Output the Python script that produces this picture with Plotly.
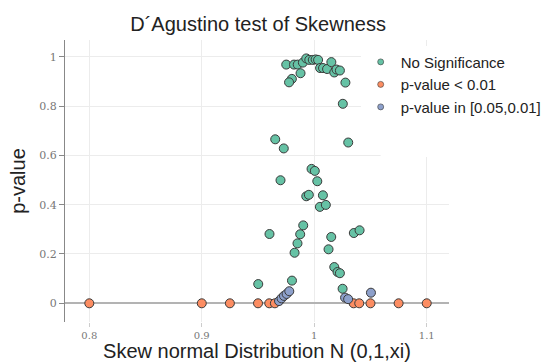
import plotly.graph_objects as go

# ---------------- data ----------------
ns_x = [0.9751, 0.9820, 0.9853, 0.9899, 0.9929, 0.9956, 0.9987, 1.0012, 1.0034,
        1.0052, 1.0078, 1.0114, 1.0152, 1.0178, 1.0198, 1.0228, 0.9878, 0.9801,
        0.9776, 1.0277, 1.0254, 0.9653, 0.9729, 1.0302, 0.9976, 1.0005, 0.9700,
        1.0027, 0.9929, 0.9952, 1.0077, 1.0050, 1.0103, 0.9902, 0.9602, 0.9875,
        1.0151, 1.0352, 1.0403, 0.9851, 0.9825, 1.0127, 1.0178, 1.0207, 1.0228,
        0.9502, 0.9802, 1.0252]
ns_y = [0.968, 0.968, 0.968, 0.976, 0.993, 0.987, 0.987, 0.989, 0.987,
        0.954, 0.954, 0.950, 0.978, 0.936, 0.948, 0.944, 0.933, 0.910,
        0.896, 0.895, 0.809, 0.665, 0.628, 0.652, 0.545, 0.537, 0.499,
        0.495, 0.434, 0.440, 0.438, 0.391, 0.399, 0.316, 0.281, 0.280,
        0.269, 0.285, 0.296, 0.243, 0.205, 0.219, 0.147, 0.127, 0.122,
        0.078, 0.092, 0.059]

low_x = [0.8, 0.9, 0.925, 0.95, 0.96, 0.965, 1.035, 1.04, 1.05, 1.075, 1.1]
low_y = [0, 0, 0, 0, 0, 0, 0, 0, 0, 0, 0]

mid_x = [0.9687, 0.9709, 0.9731, 0.9754, 0.9778, 1.0274, 1.0301, 1.0504]
mid_y = [0.009, 0.020, 0.030, 0.038, 0.049, 0.023, 0.017, 0.043]

names = ["No Significance", "p-value < 0.01", "p-value in [0.05,0.01]"]
colors = ["#66c2a5", "#fc8d62", "#8da0cb"]

x_ticks = [0.8, 0.9, 1.0, 1.1]
x_ticklabels = ["0.8", "0.9", "1", "1.1"]
y_ticks = [0, 0.2, 0.4, 0.6, 0.8, 1.0]
y_ticklabels = ["0", "0.2", "0.4", "0.6", "0.8", "1"]

fig = go.Figure()
for xs, ys, nm, c in [(ns_x, ns_y, names[0], colors[0]),
                      (low_x, low_y, names[1], colors[1]),
                      (mid_x, mid_y, names[2], colors[2])]:
    fig.add_trace(go.Scatter(x=xs, y=ys, mode="markers", name=nm, showlegend=False,
                             marker=dict(size=9, color=c,
                                         line=dict(width=1, color="#3a3a3a"))))
# legend entries with smaller symbols
for nm, c in zip(names, colors):
    fig.add_trace(go.Scatter(x=[None], y=[None], mode="markers", name=nm,
                             marker=dict(size=6, color=c,
                                         line=dict(width=0.6, color="#3a3a3a"))))

fig.update_layout(
    width=555, height=362,
    margin=dict(l=65, r=106, t=40, b=40, autoexpand=False),
    paper_bgcolor="white", plot_bgcolor="white",
    font=dict(family="Liberation Sans, Arial, sans-serif", color="#222"),
    title=dict(text="D´Agustino test of Skewness", x=0.465, xanchor="center",
               y=0.935, yanchor="middle", font=dict(size=20, color="#222")),
    legend=dict(x=0.77, y=0.98, xanchor="left", yanchor="top",
                bgcolor="rgba(255,255,255,1)", font=dict(size=15, color="#222"),
                tracegroupgap=0, itemwidth=30),
    shapes=[dict(type="rect", xref="x", yref="y", x0=1.059, x1=1.125, y0=0.593, y1=1.015,
                 fillcolor="white", line=dict(width=0), layer="between")],
)
fig.update_xaxes(range=[0.7784, 1.1198], tickvals=x_ticks, ticktext=x_ticklabels,
                 showgrid=True, gridcolor="#ececec", gridwidth=1,
                 zeroline=False, showline=False,
                 ticks="outside", ticklen=4, tickcolor="#cccccc",
                 tickfont=dict(size=10, color="#777", family="DejaVu Serif, serif"),
                 title=dict(text="Skew normal Distribution N (0,1,xi)", standoff=3,
                            font=dict(size=20, color="#222")),
                 automargin=False)
fig.update_yaxes(range=[-0.0758, 1.0677], tickvals=y_ticks, ticktext=y_ticklabels,
                 showgrid=True, gridcolor="#ececec", gridwidth=1,
                 zeroline=True, zerolinecolor="#b3b3b3", zerolinewidth=2,
                 showline=True, linecolor="#888", linewidth=1,
                 ticks="outside", ticklen=5, tickcolor="#888",
                 tickfont=dict(size=11, color="#777", family="DejaVu Serif, serif"),
                 title=dict(text="p-value", standoff=8, font=dict(size=20, color="#222")),
                 automargin=False)

fig.write_html("out.html")
